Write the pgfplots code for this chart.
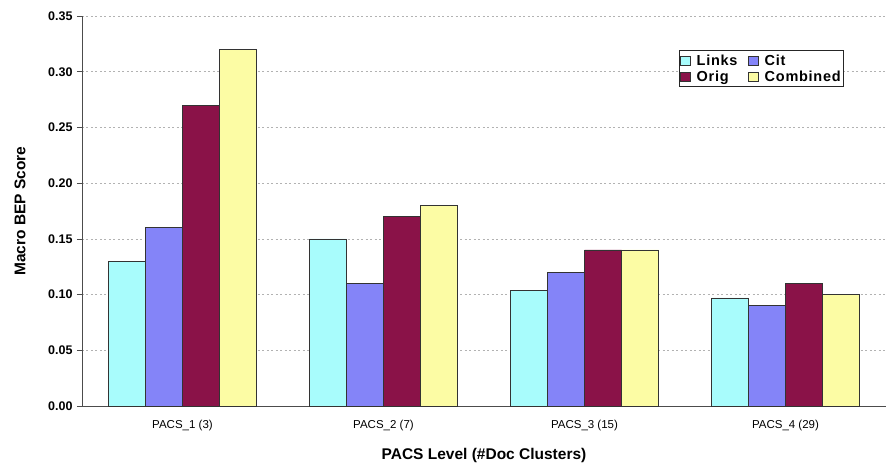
\documentclass[border=0pt]{standalone}
\usepackage{fontspec}
\setmainfont{Liberation Sans}
\newfontfamily\legfont[LetterSpace=5]{Liberation Sans}
\usepackage{pgfplots}
\pgfplotsset{compat=1.18}
\definecolor{clinks}{HTML}{A8FCFC}
\definecolor{ccit}{HTML}{8484F8}
\definecolor{corig}{HTML}{8A1248}
\definecolor{ccomb}{HTML}{FCFCA4}
\begin{document}
\begin{tikzpicture}
\begin{axis}[
  at={(0,0)}, anchor=south west,
  scale only axis, width=804pt, height=390pt,
  ybar=0pt, bar width=37pt,
  xmin=-0.5, xmax=3.5, ymin=0, ymax=0.35,
  axis x line*=bottom, axis y line*=left,
  axis line style={draw=black!70, line width=0.8pt},
  xtick={0,1,2,3},
  xticklabels={PACS\_1 (3),PACS\_2 (7),PACS\_3 (15),PACS\_4 (29)},
  x tick style={draw=none},
  extra x ticks={-0.5,0.5,1.5,2.5,3.5},
  extra x tick labels={},
  extra x tick style={tick style={draw=black!70, line width=0.6pt}, major tick length=5pt, tick align=outside, grid=none},
  ytick={0,0.05,...,0.35},
  y tick style={draw=black!70, line width=0.6pt},
  major tick length=5pt, tick align=outside,
  ymajorgrids, major grid style={dash pattern=on 2pt off 2.5pt, draw=black!30, line width=0.6pt},
  /pgf/number format/assume math mode=true,
  yticklabel style={/pgf/number format/fixed, /pgf/number format/fixed zerofill, /pgf/number format/precision=2, font=\fontsize{12.5}{14}\selectfont\bfseries, xshift=-1pt},
  xticklabel style={font=\fontsize{11.5}{13}\selectfont, yshift=-6pt},
  ylabel={Macro BEP Score},
  ylabel style={font=\fontsize{15.5}{18}\selectfont\bfseries, at={(axis description cs:0,0.5)}, anchor=center, rotate=0, yshift=62pt},
  xlabel={PACS Level (\#Doc Clusters)},
  xlabel style={font=\fontsize{15.5}{18}\selectfont\bfseries, at={(axis description cs:0.5,0)}, anchor=center, yshift=-49pt},
  legend columns=2,
  legend cell align=left,
  legend style={at={(0.7425,0.912)}, anchor=north west, draw=black!85, line width=0.9pt, font=\legfont\fontsize{14.5}{15}\selectfont\bfseries, inner xsep=1pt, inner ysep=2pt, row sep=0pt, /tikz/every even column/.append style={column sep=9pt}},
  legend image code/.code={\draw[#1, draw=black!80, line width=0.6pt] (0cm,-0.17cm) rectangle (0.34cm,0.17cm);},
  every axis plot/.append style={draw=black!80, line width=0.7pt},
  clip=false,
]
\addplot[fill=clinks] coordinates {(0,0.13) (1,0.15) (2,0.104) (3,0.097)};
\addplot[fill=ccit] coordinates {(0,0.16) (1,0.11) (2,0.12) (3,0.09)};
\addplot[fill=corig] coordinates {(0,0.27) (1,0.17) (2,0.14) (3,0.11)};
\addplot[fill=ccomb] coordinates {(0,0.32) (1,0.18) (2,0.14) (3,0.10)};
\legend{\hspace{4pt}Links,\hspace{4pt}Cit,\hspace{4pt}Orig,\hspace{4pt}Combined}
\end{axis}
\pgfresetboundingbox
\path (-82pt,-67pt) rectangle (807pt,406pt);
\end{tikzpicture}
\end{document}
